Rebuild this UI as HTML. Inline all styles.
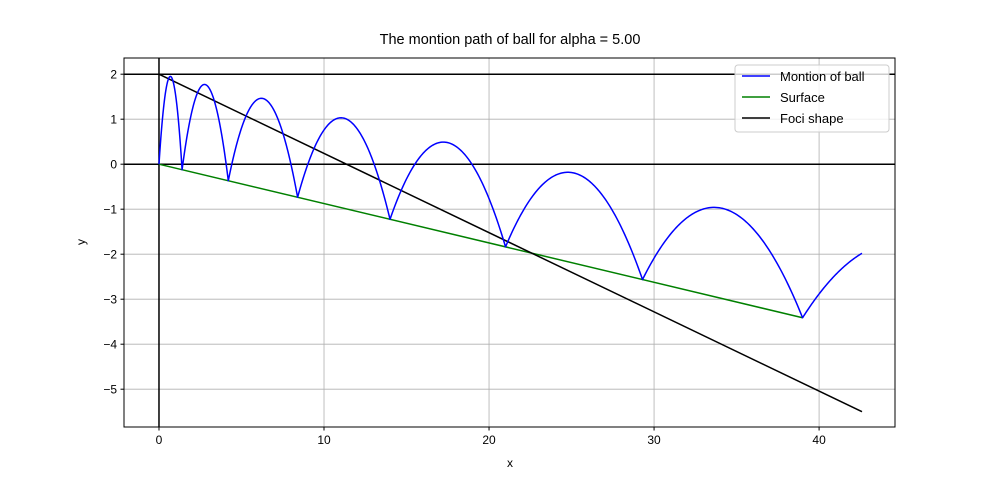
<!DOCTYPE html>
<html><head><meta charset="utf-8"><style>
body{margin:0;background:#fff;}
svg{display:block;font-family:"Liberation Sans","DejaVu Sans",sans-serif;}
</style></head><body>
<svg id="chart" width="994" height="480" viewBox="0 0 994 480" xmlns="http://www.w3.org/2000/svg">
<rect width="994" height="480" fill="#fff"/>
<g id="grid"></g>
<g id="plot"></g>
<rect x="124" y="58" width="771" height="369" fill="none" stroke="#000" stroke-width="1"/>
<g id="ticks" font-size="12"></g>
<text x="510" y="44" text-anchor="middle" font-size="14.5">The montion path of ball for alpha = 5.00</text>
<text x="510" y="467" text-anchor="middle" font-size="12">x</text>
<text x="85" y="242" text-anchor="middle" font-size="12" transform="rotate(-90 85 242)">y</text>
<g>
<rect x="735" y="65" width="154" height="67" rx="3" fill="#fff" fill-opacity="0.8" stroke="#ccc"/>
<line x1="742" y1="76" x2="770" y2="76" stroke="#0000ff" stroke-width="1.5"/>
<text x="780" y="81" font-size="13">Montion of ball</text>
<line x1="742" y1="97" x2="770" y2="97" stroke="#008000" stroke-width="1.5"/>
<text x="780" y="102" font-size="13">Surface</text>
<line x1="742" y1="118" x2="770" y2="118" stroke="#000" stroke-width="1.5"/>
<text x="780" y="123" font-size="13">Foci shape</text>
</g>
</svg>
<script>
const xTicks=[0,10,20,30,40];
const yTicks=[-5,-4,-3,-2,-1,0,1,2];
const segStart=[0,1.4,4.2,8.4,14,21,29.3,39];
const segEnd=[1.4,4.2,8.4,14,21,29.3,39,42.6];
const apexX=[0.7,2.8,6.3,11.1,17.3,24.7,33.6,44.5];
const apexY=[1.95,1.77,1.46,1.03,0.49,-0.18,-0.96,-1.75];
const finalEndY=-1.98;
const alphaDeg=5;
const fociStart=[0,2];
const fociEnd=[42.6,-5.5];
const surfaceEndX=39;

const X0=124,X1=895,Y0=58,Y1=427;
const xmin=-2.12,xmax=44.6,ymin=-5.84,ymax=2.36;
const sx=v=>X0+(v-xmin)/(xmax-xmin)*(X1-X0);
const sy=v=>Y1-(v-ymin)/(ymax-ymin)*(Y1-Y0);
const NS="http://www.w3.org/2000/svg";
function mk(tag,attrs,parent){const e=document.createElementNS(NS,tag);for(const k in attrs)e.setAttribute(k,attrs[k]);parent.appendChild(e);return e;}
const grid=document.getElementById('grid'),plot=document.getElementById('plot'),ticks=document.getElementById('ticks');
const surf=x=>-x*Math.tan(alphaDeg*Math.PI/180);

xTicks.forEach(t=>{const x=sx(t);
 let g=mk('line',{x1:x,x2:x,y1:Y0,y2:Y1,stroke:'#b0b0b0','stroke-width':0.8},grid);
 
 let tk=mk('line',{x1:x,x2:x,y1:Y1,y2:Y1+3.5,stroke:'#000'},ticks);
 
 let tx=mk('text',{x:x,y:Y1+17,'text-anchor':'middle'},ticks);tx.textContent=t;
 
});
yTicks.forEach(t=>{const y=sy(t);
 let g=mk('line',{x1:X0,x2:X1,y1:y,y2:y,stroke:'#b0b0b0','stroke-width':0.8},grid);
 
 let tk=mk('line',{x1:X0-3.5,x2:X0,y1:y,y2:y,stroke:'#000'},ticks);
 
 let tx=mk('text',{x:X0-7,y:y+4.5,'text-anchor':'end'},ticks);tx.textContent=(t<0?'\u2212'+(-t):t);
 
});
let h2=mk('line',{x1:X0,x2:X1,y1:sy(2),y2:sy(2),stroke:'#000','stroke-width':1.5},plot);

let h0=mk('line',{x1:X0,x2:X1,y1:sy(0),y2:sy(0),stroke:'#000','stroke-width':1.5},plot);

let v0=mk('line',{x1:sx(0),x2:sx(0),y1:Y0,y2:Y1,stroke:'#000','stroke-width':1.5},plot);

let s=mk('line',{x1:sx(0),y1:sy(0),x2:sx(surfaceEndX),y2:sy(surf(surfaceEndX)),stroke:'#008000','stroke-width':1.5},plot);

let f=mk('line',{x1:sx(fociStart[0]),y1:sy(fociStart[1]),x2:sx(fociEnd[0]),y2:sy(fociEnd[1]),stroke:'#000','stroke-width':1.5},plot);

let d='';
segStart.forEach((a,i)=>{
 const b=segEnd[i],m=apexX[i],ym=apexY[i],ya=surf(a);
 const yb=(i===segStart.length-1)?finalEndY:surf(b);
 const N=100;
 for(let j=0;j<=N;j++){const x=a+(b-a)*j/N;
  const y=ya*(x-m)*(x-b)/((a-m)*(a-b))+ym*(x-a)*(x-b)/((m-a)*(m-b))+yb*(x-a)*(x-m)/((b-a)*(b-m));
  d+=(d===''?'M':'L')+sx(x).toFixed(2)+','+sy(y).toFixed(2);}
});
let p=mk('path',{d:d,fill:'none',stroke:'#0000ff','stroke-width':1.5,'stroke-linejoin':'round'},plot);

</script>
</body></html>
